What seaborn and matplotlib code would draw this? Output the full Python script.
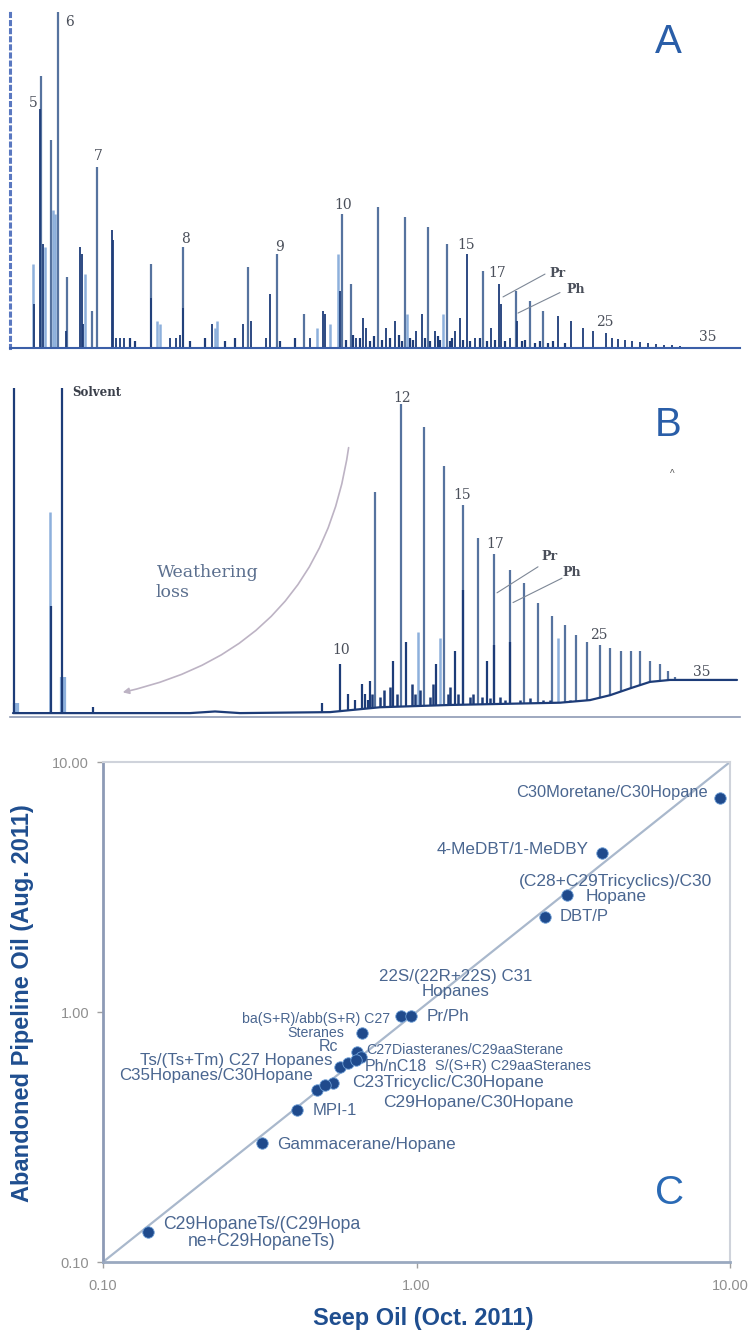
import matplotlib
matplotlib.use("Agg")
import matplotlib.pyplot as plt
from matplotlib.ticker import NullLocator, FixedLocator, FixedFormatter
import pandas as pd
import seaborn as sns

sns.set_theme(style="white")
plt.rcParams['font.family'] = ['Liberation Sans', 'DejaVu Sans']

# ---------------- Panel A: fresh pipeline oil (retention time, rel. height) -------------
a_dark_rt = [2.4, 2.95, 3.3, 5.6, 7.0, 7.2, 7.3, 10.2, 10.3, 10.6, 11.0, 11.4, 14.1, 16.0, 16.6,
             17.0, 17.3, 20.2, 23.3, 24.1, 25.6, 26.0, 30.0, 31.3, 31.5, 33.0, 34.6, 35.3, 35.6,
             37.6, 38.5, 40.6, 41.2, 42.5, 44.5, 45.0, 45.7, 46.5, 48.1, 48.9, 49.1, 50.0, 50.7,
             54.8, 56.1, 57.3, 58.3, 59.6, 60.2, 60.8, 61.5, 62.2, 63.0, 63.8, 64.6, 65.4, 66.2, 67.0]
a_dark_h = [13, 71, 31, 5, 30, 28, 7, 35, 32, 3, 3, 3, 15, 3, 3,
            4, 12, 7, 7, 8, 3, 16, 3, 11, 10, 17, 3, 9, 6,
            6, 8, 5, 10, 5, 5, 9, 28, 3, 6, 19, 13, 3, 8,
            9.5, 8, 6, 5, 4.5, 3, 2.8, 2.5, 2, 1.8, 1.5, 1.2, 1, 0.8, 0.6]
a_mid_rt = [3.1, 4.1, 4.8, 5.7, 8.2, 8.7, 14.1, 17.3, 23.8, 26.7, 29.4, 33.2, 34.1, 36.8, 39.5,
            41.8, 43.7, 47.3, 50.6, 52.0, 53.3]
a_mid_h = [81, 62, 100, 21, 11, 54, 25, 30, 24, 28, 10, 40, 19, 42, 39,
           36, 31, 23, 17, 14, 11]
a_light_rt = [2.3, 3.5, 4.3, 4.5, 7.5, 14.7, 15.0, 20.5, 20.7, 30.7, 32.0, 32.8, 39.7, 43.3]
a_light_h = [25, 30, 41, 40, 22, 8, 7, 6, 8, 6, 7, 28, 10, 10]
a_grass_rt = [12.0, 12.5, 18.0, 19.5, 21.5, 22.5, 27.0, 28.5, 33.6, 34.3, 35.0, 36.0, 36.4, 37.2,
              38.0, 38.9, 39.2, 40.0, 40.3, 41.5, 42.0, 42.8, 43.0, 44.0, 44.2, 45.3, 46.0, 47.0,
              47.7, 48.5, 49.5, 51.2, 51.5, 52.5, 53.0, 53.8, 54.3, 55.5]
a_grass_h = [3, 2, 2, 3, 2, 3, 2, 3, 2.5, 4, 3, 2, 3.5, 2.5,
             3, 4, 2, 3, 2.5, 3, 2, 3.5, 2.5, 2, 3, 2.5, 2, 3,
             2, 2.5, 2, 2, 2.5, 1.5, 2, 1.5, 2, 1.5]
a_labels = ["5", "6", "7", "8", "9", "10", "15", "17", "25", "35"]
a_label_rt = [2.3, 5.9, 8.8, 17.5, 27.0, 33.3, 45.6, 48.7, 59.5, 69.8]
a_label_h = [73, 97, 57, 32.5, 30, 42.5, 30.7, 22.3, 7.7, 3.3]

# ---------------- Panel B: weathered seep oil -------------
b_dark_rt = [0.4, 4.05, 5.2, 8.3, 31.2, 33.0, 33.8, 34.5, 35.2, 35.5, 35.8, 36.0, 38.3, 39.6,
             42.6, 44.5, 47.7, 45.3, 48.4, 50.0]
b_dark_h = [100, 33, 100, 2, 3, 15, 6, 4, 9, 6, 4, 10, 16, 22,
            15, 19, 16, 38, 21, 22]
b_mid_rt = [36.5, 39.1, 41.4, 43.4, 45.3, 46.8, 48.4, 50.0, 51.4, 52.8, 54.2, 55.5, 56.6, 57.7,
            59.0, 60.0, 61.1, 62.1, 63.0, 64.0, 65.0, 65.8, 66.5, 67.3, 68.2]
b_mid_h = [68, 95, 88, 76, 64, 54, 49, 44, 40, 34, 30, 27, 24, 22,
           21, 20, 19, 19, 19, 16, 15, 13, 11, 10.5, 10.3]
b_light_rt = [4.0, 40.8, 43.0, 54.8]
b_light_h = [62, 25, 23, 23]
b_bump_rt = [0.6, 5.3]
b_bump_h = [3, 11]
b_grass_rt = [36.2, 37.0, 37.4, 38.0, 38.7, 40.2, 40.5, 41.0, 42.0, 42.3, 43.8, 44.0, 44.8, 46.0,
              46.3, 47.2, 48.0, 49.0, 49.5, 51.0, 52.0, 53.3, 54.0, 55.0, 56.0, 57.2]
b_grass_h = [6, 5, 7, 8, 6, 9, 6, 7, 5, 9, 6, 8, 6, 5,
             6, 5, 4.5, 5, 4, 4, 4.5, 4, 4, 3.5, 4, 4]
b_base_rt = [0.3, 18, 20.5, 23, 32, 37, 44, 55, 58, 60, 62, 64, 66, 72.7]
b_base_h = [0, 0, 0.5, 0, 0.3, 1.8, 2.5, 3.2, 4.0, 5.5, 7.6, 9.6, 10.2, 10.2]
b_labels = ["10", "12", "15", "17", "25", "35"]
b_label_rt = [33.1, 39.2, 45.2, 48.5, 58.9, 69.2]
b_label_h = [19.4, 97, 67, 52, 24, 12.6]

# ---------------- Panel C: biomarker ratios -------------
ratio_names = [
    "C30Moretane/C30Hopane", "4-MeDBT/1-MeDBY", "(C28+C29Tricyclics)/C30\nHopane", "DBT/P",
    "22S/(22R+22S) C31\nHopanes", "Pr/Ph", "ba(S+R)/abb(S+R) C27\nSteranes", "Rc",
    "C27Diasteranes/C29aaSterane", "Ts/(Ts+Tm) C27 Hopanes", "Ph/nC18", "S/(S+R) C29aaSteranes",
    "C35Hopanes/C30Hopane", "C23Tricyclic/C30Hopane", "C29Hopane/C30Hopane", "MPI-1",
    "Gammacerane/Hopane", "C29HopaneTs/(C29Hopa\nne+C29HopaneTs)"]
seep_oil = [9.29, 3.91, 3.02, 2.57, 0.890, 0.960, 0.670, 0.646, 0.665, 0.570, 0.605, 0.640,
            0.482, 0.542, 0.511, 0.416, 0.322, 0.139]
pipeline_oil = [7.18, 4.33, 2.94, 2.40, 0.968, 0.968, 0.824, 0.692, 0.660, 0.603, 0.625, 0.645,
                0.488, 0.520, 0.511, 0.406, 0.299, 0.132]
one_to_one = [0.1, 10.0]
log_ticks = [0.1, 1.0, 10.0]
log_tick_labels = ["0.10", "1.00", "10.00"]

# label placement (pixel offsets from point) and style
lab_dx = [-12, -14, 49, 15, 55, 16, -46, -19, 5, -7, 17, 79, -4, 19, 58, 16, 15, 15]
lab_dy = [5, 3, 6, 0, 32, -1, 7, 5, 7, 6, -3, -6, 14, 0, -18, -1, -1, -1]
lab_ha = ["right", "right", "center", "left", "center", "left", "center", "right", "left",
          "right", "left", "left", "right", "left", "left", "left", "left", "left"]
lab_fs = [11.8, 12.3, 12.5, 12, 12.2, 12.3, 10.2, 11.5, 10.2, 12.2, 11.5, 10.4, 12.2, 12.5, 12.5,
          12, 12.3, 12.7]

DARK = "#1d3c78"
MID = "#56739f"
LIGHT = "#8db0dc"
SERIF = ["DejaVu Serif"]
NUMC = "#4a4f5a"

fig = plt.figure(figsize=(7.5, 13.32), dpi=100)
W, H = 750.0, 1332.0


def peaks(ax, rt, h, color, lw, z=2):
    ax.vlines(rt, 0, h, colors=color, lw=lw, clip_on=False, zorder=z)


# ---- A ----
axA = fig.add_axes([10 / W, 1 - 348 / H, 730 / W, 336 / H])
axA.set_xlim(0, 73)
axA.set_ylim(0, 100)
peaks(axA, a_light_rt, a_light_h, LIGHT, 1.8)
peaks(axA, a_mid_rt, a_mid_h, MID, 1.6)
peaks(axA, a_dark_rt, a_dark_h, DARK, 1.3)
peaks(axA, a_grass_rt, a_grass_h, DARK, 1.6)
for s in ["top", "right"]:
    axA.spines[s].set_visible(False)
axA.spines["left"].set_color("#5a78c0")
axA.spines["left"].set_linestyle(":")
axA.spines["left"].set_linewidth(2.2)
axA.spines["bottom"].set_color("#3b5fa8")
axA.spines["bottom"].set_linewidth(1.5)
axA.set_xticks([])
axA.set_yticks([])
for t, x, y in zip(a_labels, a_label_rt, a_label_h):
    axA.text(x, y, t, ha="center", va="center", fontsize=10, family=SERIF, color=NUMC)
axA.text(54.7, 22.3, "Pr", ha="center", va="center", fontsize=9, family=SERIF,
         weight="bold", color=NUMC)
axA.text(56.6, 17.3, "Ph", ha="center", va="center", fontsize=9, family=SERIF,
         weight="bold", color=NUMC)
axA.plot([49.3, 53.5], [15.2, 22.0], color="#7d8796", lw=0.8)
axA.plot([50.8, 55.0], [10.4, 16.5], color="#7d8796", lw=0.8)
axA.text(65.8, 91, "A", ha="center", va="center", fontsize=29, color="#2a5ea8")

# ---- B ----
axB = fig.add_axes([10 / W, 1 - 717 / H, 730 / W, 329 / H])
axB.set_xlim(0, 73)
axB.set_ylim(-1.2, 100)
peaks(axB, b_bump_rt, b_bump_h, LIGHT, 4.5)
peaks(axB, b_light_rt, b_light_h, LIGHT, 1.8)
peaks(axB, b_mid_rt, b_mid_h, MID, 1.6)
peaks(axB, b_dark_rt, b_dark_h, DARK, 1.6)
peaks(axB, b_grass_rt, b_grass_h, DARK, 1.8)
axB.fill_between(b_base_rt, -0.2, b_base_h, color="white", zorder=3)
base_df = pd.DataFrame({"rt": b_base_rt, "h": b_base_h})
sns.lineplot(data=base_df, x="rt", y="h", ax=axB, color=DARK, lw=1.6, zorder=4)
for s in ["top", "right", "left"]:
    axB.spines[s].set_visible(False)
axB.spines["bottom"].set_color("#8e9ab4")
axB.spines["bottom"].set_linewidth(1.2)
axB.spines["bottom"].set_zorder(5)
axB.set_xticks([])
axB.set_yticks([])
axB.set_xlabel("")
axB.set_ylabel("")
axB.text(6.2, 98.5, "Solvent", ha="left", va="center", fontsize=8.5, family=SERIF,
         weight="bold", color="#3a3f4a")
for t, x, y in zip(b_labels, b_label_rt, b_label_h):
    axB.text(x, y, t, ha="center", va="center", fontsize=10, family=SERIF, color=NUMC)
axB.text(53.9, 48.3, "Pr", ha="center", va="center", fontsize=9, family=SERIF,
         weight="bold", color=NUMC)
axB.text(56.2, 43.4, "Ph", ha="center", va="center", fontsize=9, family=SERIF,
         weight="bold", color=NUMC)
axB.plot([48.7, 52.8], [37, 45], color="#7d8796", lw=0.8)
axB.plot([50.3, 55.2], [34, 41.5], color="#7d8796", lw=0.8)
axB.text(65.8, 88.6, "B", ha="center", va="center", fontsize=29, color="#2a5ea8")
axB.text(66.2, 73.5, "^", ha="center", va="center", fontsize=7, color="#555555")
axB.text(14.7, 43.4, "Weathering", ha="left", va="center", fontsize=12.5, family=SERIF,
         color="#5b6f8e")
axB.text(14.5, 37.0, "loss", ha="left", va="center", fontsize=12.5, family=SERIF,
         color="#5b6f8e")
axB.annotate("", xy=(11.0, 6.2), xytext=(33.9, 82.5),
             arrowprops=dict(arrowstyle="-|>", color="#bdb3c4", lw=1.2,
                             mutation_scale=9, connectionstyle="arc3,rad=-0.35"))

# ---- C ----
axC = fig.add_axes([103 / W, 1 - 1262 / H, 627 / W, 500 / H])
axC.set_xscale("log")
axC.set_yscale("log")
diag_df = pd.DataFrame({"x": one_to_one, "y": one_to_one})
sns.lineplot(data=diag_df, x="x", y="y", ax=axC, color="#a9b8cc", lw=1.6, zorder=2)
ratio_df = pd.DataFrame({"name": ratio_names, "seep": seep_oil, "pipe": pipeline_oil})
sns.scatterplot(data=ratio_df, x="seep", y="pipe", ax=axC, s=68, color="#1f4a8c",
                linewidth=0.6, edgecolor="#6f9fd6", zorder=3)
axC.set_xlim(0.1, 10)
axC.set_ylim(0.1, 10)
for ax_ in (axC.xaxis, axC.yaxis):
    ax_.set_major_locator(FixedLocator(log_ticks))
    ax_.set_major_formatter(FixedFormatter(log_tick_labels))
    ax_.set_minor_locator(NullLocator())
axC.tick_params(axis="both", labelsize=10.5, labelcolor="#8f8f8f", color="#a0a0a0",
                length=4, width=1, direction="out")
axC.tick_params(axis="x", pad=8)
axC.tick_params(axis="y", pad=6)
axC.tick_params(left=True, bottom=True)
axC.set_xlabel("")
axC.set_ylabel("")
axC.spines["left"].set_color("#8d9ab6")
axC.spines["left"].set_linewidth(2)
axC.spines["bottom"].set_color("#9aa9c0")
axC.spines["bottom"].set_linewidth(2)
axC.spines["top"].set_color("#cfd3db")
axC.spines["top"].set_linewidth(1.5)
axC.spines["right"].set_color("#cfd3db")
axC.spines["right"].set_linewidth(1.5)
for name, x, y, dx, dy, ha, fs in zip(ratio_names, seep_oil, pipeline_oil, lab_dx, lab_dy,
                                       lab_ha, lab_fs):
    axC.annotate(name, (x, y), xytext=(dx, dy), textcoords="offset pixels", ha=ha,
                 va="center", multialignment="center", fontsize=fs, color="#4a6690",
                 linespacing=1.0, zorder=4)
axC.text(0.904, 0.138, "C", transform=axC.transAxes, ha="center", va="center",
         fontsize=29, color="#2a6ab5")

fig.text(23 / W, 1 - 1003 / H, "Abandoned Pipeline Oil (Aug. 2011)", rotation=90,
         ha="center", va="center", fontsize=17, weight="bold", color="#1f4e8f")
fig.text(423 / W, 1 - 1325 / H, "Seep Oil (Oct. 2011)", ha="center", va="baseline",
         fontsize=17, weight="bold", color="#1f4e8f")

fig.savefig("out.png", dpi=100)
